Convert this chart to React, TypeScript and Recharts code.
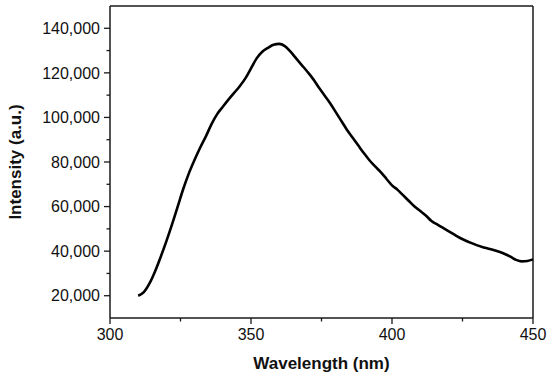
import React from "react";
import { LineChart, Line, XAxis, YAxis, ReferenceLine } from "recharts";

// emission spectrum
const wavelength = [
  310, 312, 314, 316, 318, 320, 322, 324, 326, 328, 330, 332, 334, 336, 338, 340,
  342, 344, 346, 348, 350, 352, 354, 356, 358, 360, 362, 364, 366, 368, 370, 372,
  374, 376, 378, 380, 382, 384, 386, 388, 390, 392, 394, 396, 398, 400, 402, 404,
  406, 408, 410, 412, 414, 416, 418, 420, 422, 424, 426, 428, 430, 432, 434, 436,
  438, 440, 442, 444, 446, 448, 450,
];
const intensity = [
  20000, 21600, 25500, 31000, 37500, 44500, 52000, 60000, 68000, 75000, 81000, 86500,
  91500, 97000, 101500, 104800, 108000, 111000, 114000, 117500, 122000, 126500, 129500,
  131200, 132600, 133000, 132000, 129500, 126500, 123500, 120500, 117300, 113500, 110000,
  106500, 102500, 98500, 94500, 91000, 87500, 84000, 80800, 78000, 75500, 72500, 69500,
  67500, 65000, 62500, 60000, 58000, 56000, 53500, 52000, 50500, 49000, 47500, 46000,
  44800, 43700, 42700, 41900, 41200, 40500, 39700, 38700, 37500, 36100, 35400, 35600,
  36300,
];

const xTicks = [300, 325, 350, 375, 400, 425, 450];
const yTicks = [20000, 30000, 40000, 50000, 60000, 70000, 80000, 90000, 100000, 110000, 120000, 130000, 140000];

const data = wavelength.map((w, i) => ({ w, v: intensity[i] }));

const AXIS = "#1a1a1a";
const FONT = "'Liberation Sans', Arial, sans-serif";

// eslint-disable-next-line @typescript-eslint/no-explicit-any
const YTick = (props: any) => {
  const { x, y, payload } = props;
  const major = payload.value % 20000 === 0;
  return (
    <g>
      <line x1={x - (major ? 6 : 3.5)} x2={x} y1={y} y2={y} stroke={AXIS} strokeWidth={1.3} />
      {major && (
        <text x={x - 10} y={y} dy="0.36em" textAnchor="end" fontSize={16} fill="#111" fontFamily={FONT}>
          {payload.value.toLocaleString("en-US")}
        </text>
      )}
    </g>
  );
};

// eslint-disable-next-line @typescript-eslint/no-explicit-any
const XTick = (props: any) => {
  const { x, y, payload } = props;
  const major = payload.value % 50 === 0;
  return (
    <g>
      <line x1={x} x2={x} y1={y} y2={y + (major ? 6 : 3.5)} stroke={AXIS} strokeWidth={1.3} />
      {major && (
        <text x={x} y={y + 11} dy="0.71em" textAnchor="middle" fontSize={16} fill="#111" fontFamily={FONT}>
          {payload.value}
        </text>
      )}
    </g>
  );
};

export default function App() {
  return (
    <div style={{ position: "absolute", left: 0, top: 0, background: "#fff" }}>
      <LineChart width={550} height={380} data={data} margin={{ top: 6, right: 17, bottom: 0, left: 0 }}>
        <XAxis
          dataKey="w"
          type="number"
          domain={[300, 450]}
          ticks={xTicks}
          interval={0}
          height={62}
          tickSize={0}
          tickMargin={0}
          tickLine={false}
          tick={<XTick />}
          stroke={AXIS}
          strokeWidth={1.5}
          label={{
            value: "Wavelength (nm)",
            position: "insideBottom",
            offset: 11,
            style: { fontFamily: FONT, fontSize: 17, fontWeight: 700, fill: "#111" },
          }}
        />
        <YAxis
          type="number"
          domain={[10000, 150000]}
          ticks={yTicks}
          interval={0}
          width={110}
          tickSize={0}
          tickMargin={0}
          tickLine={false}
          tick={<YTick />}
          stroke={AXIS}
          strokeWidth={1.5}
          label={{
            value: "Intensity (a.u.)",
            angle: -90,
            position: "insideLeft",
            offset: 15,
            style: { textAnchor: "middle", fontFamily: FONT, fontSize: 17, fontWeight: 700, fill: "#111" },
          }}
        />
        <ReferenceLine y={150000} stroke={AXIS} strokeWidth={1.5} />
        <ReferenceLine x={450} stroke={AXIS} strokeWidth={1.5} />
        <Line
          type="monotone"
          dataKey="v"
          stroke="#000"
          strokeWidth={2.6}
          dot={false}
          isAnimationActive={false}
        />
      </LineChart>
    </div>
  );
}
